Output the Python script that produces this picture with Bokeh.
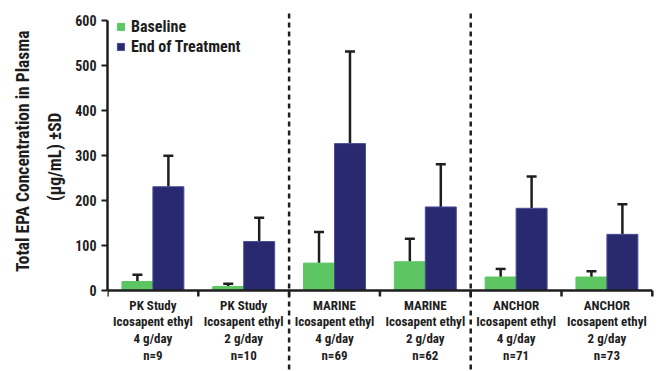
from bokeh.plotting import figure
from bokeh.models import (ColumnDataSource, Range1d, FixedTicker, Whisker, TeeHead,
                          Legend, LegendItem, Title)
from bokeh.core.properties import value
from bokeh.embed import file_html
from bokeh.resources import INLINE

# EPA in plasma, mean and SD (µg/mL), by study arm
studies = ["PK Study", "PK Study", "MARINE", "MARINE", "ANCHOR", "ANCHOR"]
drug = "Icosapent ethyl"
doses = ["4 g/day", "2 g/day", "4 g/day", "2 g/day", "4 g/day", "2 g/day"]
n_patients = [9, 10, 69, 62, 71, 73]
baseline = [20, 9, 61, 64, 30, 30]
baseline_sd = [15, 6, 69, 51, 18, 13]
end_of_treatment = [231, 109, 327, 186, 183, 125]
end_of_treatment_sd = [69, 53, 205, 95, 71, 67]
y_ticks = [0, 100, 200, 300, 400, 500, 600]
study_breaks = [2, 4]
y_title_lines = ["Total EPA Concentration in Plasma", "(µg/mL) ±SD"]

GREEN = "#5dc663"
NAVY = "#28296f"
INK = "#1e1e1e"
FONT = "Roboto Condensed"

n_groups = len(studies)
centers = [i + 0.5 for i in range(n_groups)]
bar_w = 0.341

# pixel scale: value 0 sits 290 px down, 600 at ~20.5 px
PX_PER_UNIT = 0.4492
FRAME_LEFT = 107
TOP_PAD = 8
y_end = (290 - TOP_PAD) / PX_PER_UNIT
y_start = (290 - 371) / PX_PER_UNIT

p = figure(width=660, height=371, output_backend="svg", toolbar_location=None,
           x_range=Range1d(0, 6.046), y_range=Range1d(y_start, y_end),
           min_border_left=FRAME_LEFT, min_border_right=4,
           min_border_top=TOP_PAD, min_border_bottom=0)
p.outline_line_color = None
p.grid.visible = False
p.xaxis.visible = False
p.background_fill_color = "white"

src = ColumnDataSource(dict(
    xg=[c - bar_w / 2 for c in centers],
    xb=[c + bar_w / 2 for c in centers],
    base=baseline,
    base_hi=[v + s for v, s in zip(baseline, baseline_sd)],
    eot=end_of_treatment,
    eot_hi=[v + s for v, s in zip(end_of_treatment, end_of_treatment_sd)],
))

# error bars (upper SD only)
for xcol, lo, hi in (("xg", "base", "base_hi"), ("xb", "eot", "eot_hi")):
    w = Whisker(source=src, base=xcol, lower=lo, upper=hi, dimension="height",
                line_color=INK, line_width=2.5, lower_head=None,
                upper_head=TeeHead(size=10, line_color=INK, line_width=2.5))
    p.add_layout(w)

r_base = p.vbar(x="xg", top="base", bottom=0, width=bar_w, source=src,
                fill_color=GREEN, line_color=GREEN, line_width=1)
r_eot = p.vbar(x="xb", top="eot", bottom=0, width=bar_w, source=src,
               fill_color=NAVY, line_color="#4a4c98", line_width=1)

# value axis
yax = p.yaxis[0]
yax.ticker = FixedTicker(ticks=y_ticks)
yax.bounds = (0, 600)
yax.axis_line_width = 2.5
yax.axis_line_color = INK
yax.major_tick_line_color = INK
yax.major_tick_line_width = 2
yax.major_tick_out = 6
yax.major_tick_in = 0
yax.minor_tick_line_color = None
yax.major_label_standoff = 5
yax.major_label_text_font = FONT
yax.major_label_text_font_style = "bold"
yax.major_label_text_font_size = "14px"
yax.major_label_text_color = INK

# two-line value-axis title; each line ends a fixed distance below the frame top
for line, standoff, offset in zip(reversed(y_title_lines), (16, 4), (104, 22)):
    p.add_layout(Title(text=line, align="right", offset=offset, standoff=standoff,
                       text_font=FONT, text_font_style="bold",
                       text_font_size="17.5px", text_color=INK), "left")

# category baseline with group boundary ticks
tick_len = 6 / PX_PER_UNIT
p.segment(x0=[0], y0=[0], x1=[n_groups], y1=[0], line_color=INK, line_width=2.5)
p.segment(x0=list(range(n_groups + 1)), y0=[0] * (n_groups + 1),
          x1=list(range(n_groups + 1)), y1=[-tick_len] * (n_groups + 1),
          line_color=INK, line_width=2.5)

# dashed separators between studies
dash_top = (290 - 13) / PX_PER_UNIT
p.segment(x0=study_breaks, y0=[dash_top] * len(study_breaks),
          x1=study_breaks, y1=[y_start] * len(study_breaks),
          line_color=INK, line_width=2.5, line_dash="5 4")

# category labels under each pair of bars
labels = [f"{s}\n{drug}\n{d}\nn={n}" for s, d, n in zip(studies, doses, n_patients)]
label_top = (290 - 297) / PX_PER_UNIT
p.text(x=centers, y=[label_top] * n_groups, text=labels,
       text_font=value(FONT), text_font_style="bold", text_font_size="13px",
       text_color=INK, text_align="center", text_baseline="top",
       text_line_height=1.13)

legend = Legend(items=[LegendItem(label="Baseline", renderers=[r_base]),
                       LegendItem(label="End of Treatment", renderers=[r_eot])],
                location="top_left", margin=9, padding=0, spacing=1,
                glyph_width=9, glyph_height=9, label_height=14, label_standoff=6,
                label_text_font=FONT, label_text_font_style="bold",
                label_text_font_size="16px", label_text_color=INK,
                background_fill_alpha=0, border_line_color=None)
p.add_layout(legend)

open("out.html", "w").write(file_html(p, INLINE))
